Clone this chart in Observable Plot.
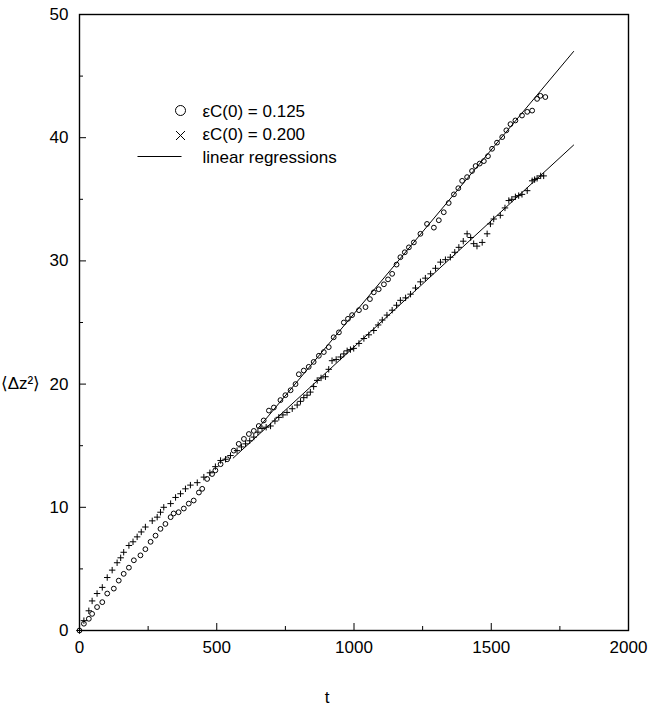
<!DOCTYPE html>
<html><head><meta charset="utf-8">
<script src="https://cdn.jsdelivr.net/npm/d3@7"></script>
<script src="https://cdn.jsdelivr.net/npm/@observablehq/plot@0.6"></script>
<style>body{margin:0;background:#fff} svg{display:block}</style>
</head><body><div id="chart"></div>
<script>
// εC(0) = 0.125 (circles)
const tCirc = [0,16,34,46,64,83,101,125,143,161,180,198,222,240,259,277,295,313,332,343,361,380,398,416,435,447,465,483,495,514,538,562,580,599,617,635,653,671,690,708,732,750,769,787,799,817,835,853,872,890,908,926,945,963,978,993,1018,1042,1058,1072,1090,1109,1124,1139,1155,1169,1185,1200,1218,1242,1266,1291,1309,1327,1345,1364,1380,1394,1412,1430,1443,1458,1473,1488,1503,1521,1540,1555,1570,1588,1612,1631,1649,1667,1679,1697];
const vCirc = [0,0.55,0.95,1.35,1.9,2.3,3.0,3.4,4.05,4.6,5.1,5.7,6.1,6.6,7.2,7.7,8.25,8.65,9.2,9.5,9.6,9.9,10.3,10.55,11.2,11.5,12.3,12.7,13.0,13.5,13.9,14.6,15.15,15.55,15.95,16.2,16.6,17.05,17.85,18.1,18.7,19.1,19.5,20.0,20.8,21.1,21.4,21.8,22.3,22.6,23.0,23.8,24.2,25.0,25.3,25.6,26.0,26.25,26.9,27.45,27.7,28.1,28.5,28.95,29.7,30.3,30.7,31.1,31.5,32.2,33.0,32.7,33.3,33.95,34.7,35.4,35.9,36.5,36.8,37.3,37.7,37.9,38.1,38.5,39.1,39.6,40.05,40.6,41.1,41.4,41.8,42.1,42.2,43.15,43.4,43.3];
// εC(0) = 0.200 (crosses)
const tCross = [0,16,34,46,64,83,101,119,137,150,161,180,195,210,225,240,265,283,295,307,332,350,368,386,404,429,453,475,495,514,532,550,574,590,605,620,635,650,665,680,696,712,726,741,756,775,793,805,817,829,841,853,866,880,896,908,920,935,951,963,975,987,999,1018,1036,1054,1072,1088,1103,1120,1139,1155,1169,1188,1206,1224,1242,1260,1279,1297,1315,1333,1351,1367,1382,1398,1412,1425,1436,1448,1467,1485,1497,1509,1533,1550,1564,1575,1588,1600,1612,1631,1649,1658,1667,1680,1691];
const vCross = [0,0.8,1.6,2.4,3.0,3.5,4.3,4.9,5.5,5.9,6.35,6.9,7.2,7.6,8.0,8.4,8.9,9.2,9.6,10.0,10.3,10.8,11.1,11.5,11.8,12.0,12.45,12.8,13.3,13.8,13.9,14.2,14.6,14.9,15.15,15.4,15.7,16.1,16.4,16.5,16.6,17.0,17.3,17.5,17.7,18.0,18.3,18.6,18.9,19.1,19.35,19.8,20.3,20.5,20.6,21.2,21.9,22.0,22.2,22.45,22.7,22.8,22.9,23.3,23.7,24.0,24.35,24.8,25.2,25.6,26.0,26.4,26.8,27.0,27.3,27.8,28.3,28.6,28.95,29.4,29.9,30.1,30.3,30.7,31.1,31.6,32.2,31.9,31.4,31.2,31.5,32.2,33.0,33.4,33.7,34.3,34.9,35.0,35.2,35.3,35.4,35.7,36.5,36.6,36.7,36.9,36.9];
// linear regressions (endpoints)
const tRegCirc = [650, 1800];
const vRegCirc = [16.4, 47.0];
const tRegCross = [560, 1800];
const vRegCross = [14.0, 39.4];
// ticks
const xTicks = [0, 500, 1000, 1500, 2000];
const xMinor = [250, 750, 1250, 1750];
const yTicks = [0, 10, 20, 30, 40, 50];
const yMinor = [5, 15, 25, 35, 45];
const legendLabels = ["εC(0) = 0.125", "εC(0) = 0.200", "linear regressions"];
const xLabel = "t";
const yLabel = "⟨Δz²⟩";

const circles = tCirc.map((t, i) => ({t, v: vCirc[i]}));
const crosses = tCross.map((t, i) => ({t, v: vCross[i]}));
const regCirc = tRegCirc.map((t, i) => ({t, v: vRegCirc[i]}));
const regCross = tRegCross.map((t, i) => ({t, v: vRegCross[i]}));

const lineSymbol = {draw(context, size) { const r = Math.sqrt(size / Math.PI); context.moveTo(-r, 0); context.lineTo(r, 0); }};
const plusSymbol = {draw(context, size) { const r = Math.sqrt(size / Math.PI); context.moveTo(-r, 0); context.lineTo(r, 0); context.moveTo(0, -r); context.lineTo(0, r); }};
const timesSymbol = {draw(context, size) { const r = Math.sqrt(size / Math.PI); context.moveTo(-r, -r); context.lineTo(r, r); context.moveTo(-r, r); context.lineTo(r, -r); }};

const plot = Plot.plot({
  width: 649, height: 706,
  marginLeft: 79, marginRight: 21, marginTop: 14, marginBottom: 76,
  style: {fontFamily: "'Liberation Sans', Arial, Helvetica, sans-serif", fontSize: "17px", color: "black", background: "white", overflow: "visible"},
  x: {domain: [0, 2000]},
  y: {domain: [0, 50]},
  marks: [
    Plot.frame({stroke: "black", strokeWidth: 1.4}),
    Plot.axisX({ticks: xTicks, tickSize: -7, tickPadding: 17, tickFormat: d => String(d), label: null, fontSize: 17}),
    Plot.axisX({ticks: xMinor, tickSize: -4, tickFormat: () => "", label: null}),
    Plot.axisY({ticks: yTicks, tickSize: -7, tickPadding: 18, tickFormat: d => String(d), label: null, fontSize: 17}),
    Plot.axisY({ticks: yMinor, tickSize: -4, tickFormat: () => "", label: null}),
    Plot.line(regCirc, {x: "t", y: "v", stroke: "black", strokeWidth: 1}),
    Plot.line(regCross, {x: "t", y: "v", stroke: "black", strokeWidth: 1}),
    Plot.dot(circles, {x: "t", y: "v", r: 2.4, stroke: "black", strokeWidth: 1, fill: "none"}),
    Plot.dot(crosses, {x: "t", y: "v", symbol: plusSymbol, r: 3.2, stroke: "black", strokeWidth: 1}),
    // legend
    Plot.dot([0], {frameAnchor: "top-left", dx: 101, dy: 96, r: 5, stroke: "black", strokeWidth: 1, fill: "none"}),
    Plot.dot([0], {frameAnchor: "top-left", dx: 101, dy: 121, r: 4.5, symbol: timesSymbol, stroke: "black", strokeWidth: 1}),
    Plot.dot([0], {frameAnchor: "top-left", dx: 80, dy: 142, r: 22, symbol: lineSymbol, stroke: "black", strokeWidth: 1}),
    Plot.text([legendLabels[0]], {text: d => d, frameAnchor: "top-left", dx: 123, dy: 97, textAnchor: "start", lineAnchor: "middle", fontSize: 17}),
    Plot.text([legendLabels[1]], {text: d => d, frameAnchor: "top-left", dx: 123, dy: 120, textAnchor: "start", lineAnchor: "middle", fontSize: 17}),
    Plot.text([legendLabels[2]], {text: d => d, frameAnchor: "top-left", dx: 123, dy: 143, textAnchor: "start", lineAnchor: "middle", fontSize: 17}),
    // axis titles
    Plot.text([yLabel], {text: d => d, frameAnchor: "left", dx: -59, dy: 61, textAnchor: "middle", lineAnchor: "middle", fontSize: 17}),
    Plot.text([xLabel], {text: d => d, frameAnchor: "bottom", dx: -27, dy: 67, textAnchor: "middle", lineAnchor: "middle", fontSize: 17})
  ]
});
document.getElementById("chart").appendChild(plot);
</script>
</body></html>
